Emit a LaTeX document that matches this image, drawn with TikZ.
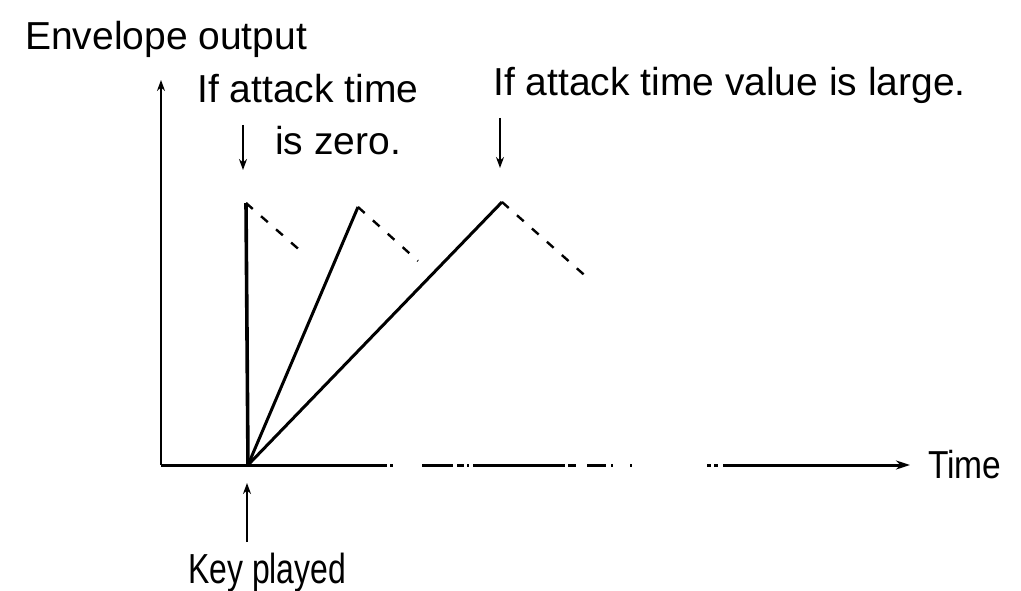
\documentclass[tikz,border=0pt]{standalone}
\usepackage{fontspec}
\setmainfont{Liberation Sans}
\usetikzlibrary{arrows.meta}
\begin{document}
\begin{tikzpicture}[x=1pt,y=-1pt,
  lbl/.style={anchor=base west,inner sep=0pt,font=\fontsize{39}{44}\selectfont},
  ln/.style={line width=3pt,line cap=butt},
  arr/.style={line width=2.4pt,-{Stealth[length=11pt,width=8pt]}},
  dsh/.style={line width=2.4pt,dash pattern=on 9pt off 11pt}]
\useasboundingbox (0,0) rectangle (1021,591);
% coordinates
\coordinate (O) at (161,465);
\coordinate (Ytop) at (161,80);
\coordinate (K) at (248,465);
\coordinate (P1) at (246,203);
\coordinate (P2) at (358,207);
\coordinate (P3) at (502,202);
\coordinate (D1) at (303,253);
\coordinate (D2) at (418,261);
\coordinate (D3) at (590,280);
% labels
\node[lbl] (env) at (25,50) {Envelope output};
\node[lbl] (zt) at (197,103) {If attack time};
\node[lbl] (zz) at (275,155) {is zero.};
\node[lbl] (lg) at (493,96) {If attack time value is large.};
\node[lbl,font=\fontsize{42}{46}\selectfont] (key) at (188,583) {\scalebox{0.76}[1]{Key played}};
\node[lbl] (time) at (928,478) {\scalebox{0.86}[1]{Time}};
% axes
\draw[arr] (O) -- (Ytop);
\draw[ln] (O) -- (387,465);
\draw[ln] (390,465) -- (393,465);
\draw[ln] (422,465) -- (453,465);
\draw[ln] (457,465) -- (464,465);
\draw[ln] (467,465) -- (469,465);
\draw[ln] (473,465) -- (565,465);
\draw[ln] (568,465) -- (576,465);
\draw[ln] (587,465) -- (606,465);
\draw[ln] (611,465) -- (613,465);
\draw[ln] (630,465) -- (632,465);
\draw[ln] (707,465) -- (711,465);
\draw[ln] (714,465) -- (718,465);
\draw[ln,-{Stealth[length=14pt,width=9pt]}] (723,465) -- (910,465);
% arrows to labels
\draw[arr] (243,125) -- (243,170);
\draw[arr] (500,118) -- (500,168);
\draw[arr] (247,542) -- (247,483);
% envelopes
\draw[line width=3.6pt] (K) -- (P1);
\draw[line width=3pt] (K) -- (P2);
\draw[line width=3pt] (K) -- (P3);
\draw[dsh] (P1) -- (D1);
\draw[dsh] (P2) -- (D2);
\draw[dsh] (P3) -- (D3);
\end{tikzpicture}
\end{document}
